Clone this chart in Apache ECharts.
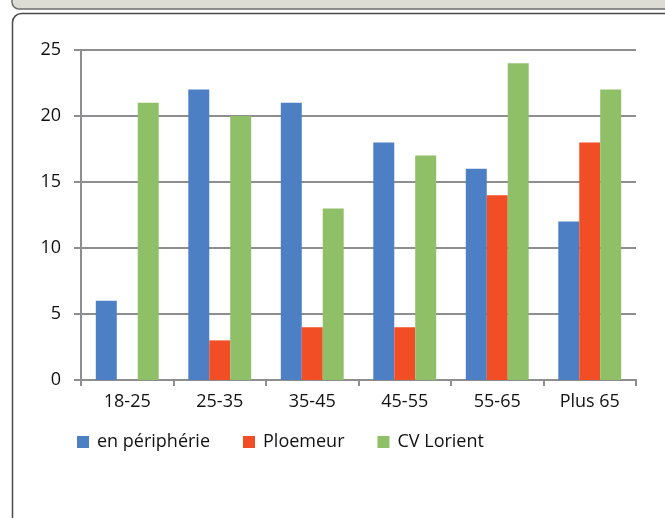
<!DOCTYPE html>
<html>
<head>
<meta charset="utf-8">
<script src="https://cdn.jsdelivr.net/npm/echarts@6/dist/echarts.min.js"></script>
<style>
  html, body { margin: 0; padding: 0; background: #fff; }
  #chart { width: 665px; height: 518px; }
</style>
</head>
<body>
<div id="chart"></div>
<script>
// tranches d'age
const categories = ['18-25', '25-35', '35-45', '45-55', '55-65', 'Plus 65']
const peripherie = [6, 22, 21, 18, 16, 12]
const ploemeur = [0, 3, 4, 4, 14, 18]
const cvLorient = [21, 20, 13, 17, 24, 22]
const yTicks = [0, 5, 10, 15, 20, 25]

const gris = '#8e8e90'
const font = "'Open Sans', 'Noto Sans', sans-serif"

const myChart = echarts.init(document.getElementById('chart'))
myChart.setOption({
  animation: false,
  textStyle: { fontFamily: font },
  graphic: [
    // bandeau gris du haut
    {
      type: 'rect',
      shape: { x: 12, y: -20, width: 700, height: 29, r: 7 },
      style: { fill: '#dcdcd4', stroke: '#6e6e6e', lineWidth: 1.5 },
      z: -10
    },
    // cadre arrondi
    {
      type: 'rect',
      shape: { x: 12.5, y: 13.5, width: 700, height: 560, r: 9 },
      style: { fill: '#fff', stroke: '#4a4a4a', lineWidth: 1.5 },
      z: -10
    }
  ],
  grid: { left: 81, right: 29, top: 50, bottom: 138 },
  legend: {
    left: 72,
    top: 428,
    itemWidth: 12,
    itemHeight: 12,
    itemGap: 33,
    icon: 'rect',
    textStyle: { fontSize: 18, color: '#111', fontFamily: font, padding: [0, 0, 0, 3] },
    data: ['en périphérie', 'Ploemeur', 'CV Lorient']
  },
  xAxis: {
    type: 'category',
    data: categories,
    axisLine: { lineStyle: { color: gris, width: 2 } },
    axisTick: { show: true, length: 6, lineStyle: { color: gris, width: 2 } },
    axisLabel: { fontSize: 18, color: '#111', margin: 13 }
  },
  yAxis: {
    type: 'value',
    min: 0,
    max: 25,
    interval: 5,
    axisLine: { show: true, lineStyle: { color: gris, width: 2 } },
    axisTick: { show: true, length: 7, lineStyle: { color: gris, width: 2 } },
    splitLine: { lineStyle: { color: gris, width: 2 } },
    axisLabel: {
      fontSize: 18,
      color: '#111',
      margin: 20,
      formatter: v => (yTicks.includes(v) ? String(v) : '')
    }
  },
  series: [
    {
      name: 'en périphérie',
      type: 'bar',
      data: peripherie,
      barGap: '0%',
      barCategoryGap: '32%',
      itemStyle: { color: '#4d7fc4' }
    },
    {
      name: 'Ploemeur',
      type: 'bar',
      data: ploemeur,
      itemStyle: { color: '#f24e25' }
    },
    {
      name: 'CV Lorient',
      type: 'bar',
      data: cvLorient,
      itemStyle: { color: '#8fbf66' }
    }
  ]
})
</script>
</body>
</html>
